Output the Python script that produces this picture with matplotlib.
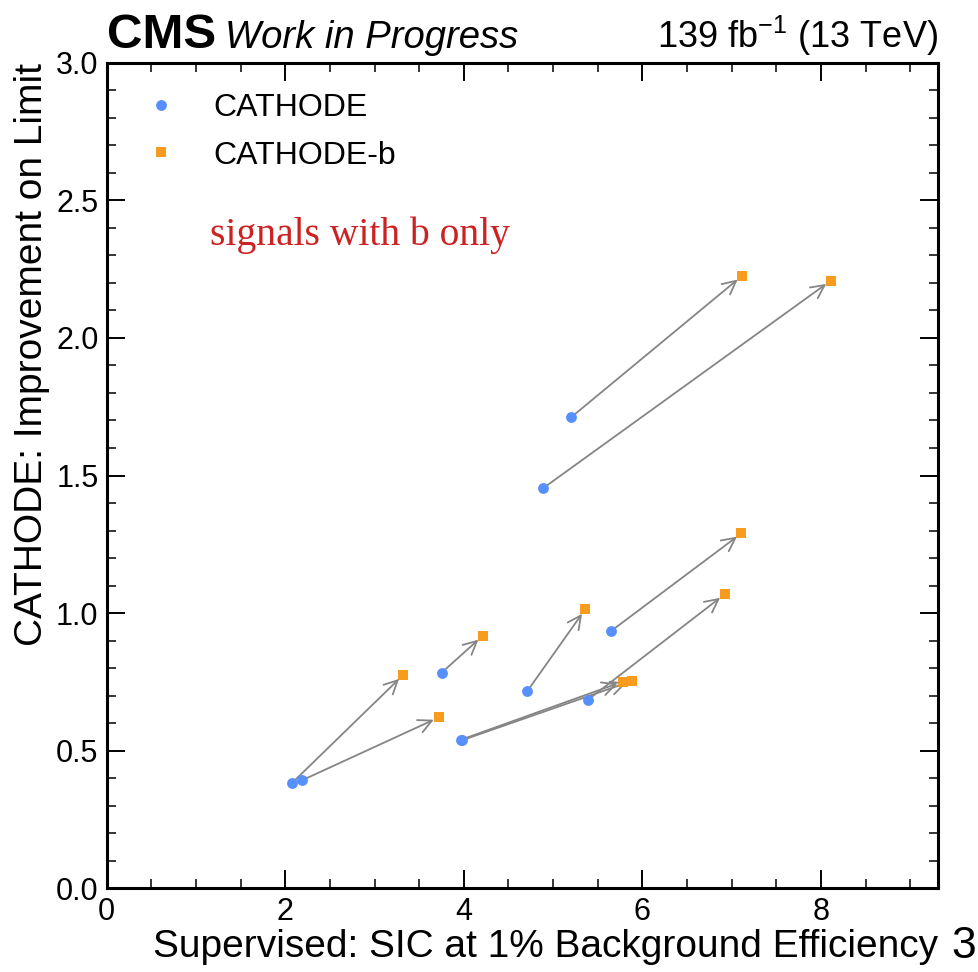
import matplotlib
matplotlib.use("Agg")
import matplotlib.pyplot as plt
from matplotlib.ticker import MultipleLocator

plt.rcParams['font.family'] = ['Liberation Sans', 'DejaVu Sans']
plt.rcParams['mathtext.fontset'] = 'custom'
plt.rcParams['mathtext.rm'] = 'Liberation Sans'
plt.rcParams['mathtext.default'] = 'regular'

# CATHODE (start) and CATHODE-b (end) values
cathode_x = [2.08, 2.185, 3.75, 3.97, 3.98, 4.71, 4.885, 5.20, 5.39, 5.65]
cathode_y = [0.384, 0.392, 0.783, 0.540, 0.538, 0.716, 1.453, 1.711, 0.685, 0.935]
cathode_b_x = [3.32, 3.72, 4.21, 5.78, 5.88, 5.36, 8.11, 7.115, 6.92, 7.11]
cathode_b_y = [0.775, 0.621, 0.917, 0.751, 0.753, 1.014, 2.208, 2.225, 1.068, 1.290]

labels = ["CATHODE", "CATHODE-b"]
colors = ["#5790fc", "#f89c20"]

fig = plt.figure(figsize=(9.79, 9.72), dpi=100)
ax = fig.add_axes([0.109, 0.0861, 0.849, 0.8494])

for x0, y0, x1, y1 in zip(cathode_x, cathode_y, cathode_b_x, cathode_b_y):
    ax.annotate("", xy=(x1, y1), xytext=(x0, y0),
                arrowprops=dict(arrowstyle="->", color="#858585", lw=1.3,
                                mutation_scale=24, shrinkA=0, shrinkB=4),
                zorder=2)

ax.plot(cathode_x, cathode_y, 'o', color=colors[0], ms=7.8, mew=0,
        label=labels[0], zorder=3)
ax.plot(cathode_b_x, cathode_b_y, 's', color=colors[1], ms=7.2, mew=0,
        label=labels[1], zorder=3)

ax.set_xlim(0, 9.31)
ax.set_ylim(0, 3.0)
ax.xaxis.set_major_locator(MultipleLocator(2))
ax.xaxis.set_minor_locator(MultipleLocator(0.5))
ax.yaxis.set_major_locator(MultipleLocator(0.5))
ax.yaxis.set_minor_locator(MultipleLocator(0.1))
ax.yaxis.set_major_formatter(matplotlib.ticker.FormatStrFormatter('%.1f'))

ax.tick_params(which='both', direction='in', top=True, right=True, labelsize=22)
ax.tick_params(which='major', length=13, width=1.4, pad=6)
ax.tick_params(which='minor', length=6.5, width=1.1)
for s in ax.spines.values():
    s.set_linewidth(2.2)

ax.set_xlabel("Supervised: SIC at 1% Background Efficiency", fontsize=28,
              loc='right', labelpad=2)
ax.set_ylabel("CATHODE: Improvement on Limit", fontsize=28, loc='top',
              labelpad=4)

ax.legend(loc='upper left', frameon=False, fontsize=23, handlelength=1.5,
          handletextpad=0.9, borderaxespad=0.55, labelspacing=0.55,
          markerscale=1.0)

ax.text(1.157, 2.338, "signals with b only", color="#cc2222", fontsize=28.5,
        family=['Liberation Serif', 'DejaVu Serif'], ha='left', va='baseline')

ax.text(0.0, 1.018, "CMS", transform=ax.transAxes, fontsize=35.5,
        fontweight='bold', ha='left', va='baseline')
ax.text(0.142, 1.018, "Work in Progress", transform=ax.transAxes, fontsize=27.5,
        style='italic', ha='left', va='baseline')
ax.text(1.0, 1.018, "139 fb$^{-1}$ (13 TeV)", transform=ax.transAxes,
        fontsize=26, ha='right', va='baseline')

fig.text(0.997, 0.014, "3", fontsize=32, ha='right', va='baseline')

fig.savefig("out.png", dpi=100)
